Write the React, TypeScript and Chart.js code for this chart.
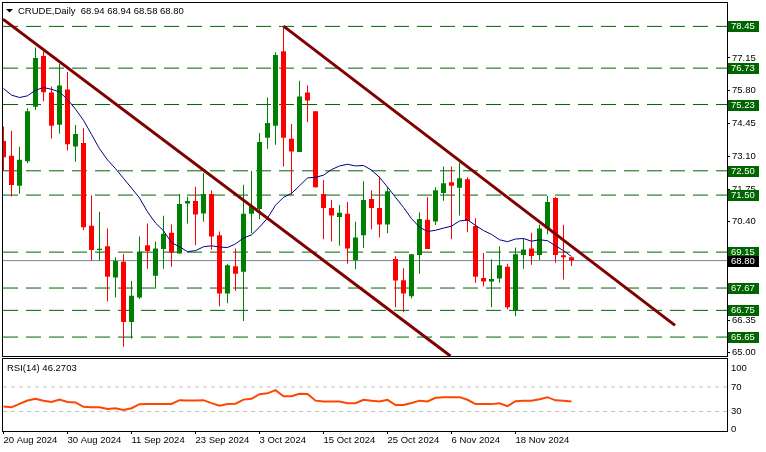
import React, { useEffect, useRef } from 'react';
import { Chart, registerables } from 'chart.js';

Chart.register(...registerables);

// ---------------- data ----------------
const dates = [
  '20 Aug 2024', '21 Aug 2024', '22 Aug 2024', '23 Aug 2024', '26 Aug 2024', '27 Aug 2024', '28 Aug 2024', '29 Aug 2024',
  '30 Aug 2024', '2 Sep 2024', '3 Sep 2024', '4 Sep 2024', '5 Sep 2024', '6 Sep 2024', '9 Sep 2024', '10 Sep 2024',
  '11 Sep 2024', '12 Sep 2024', '13 Sep 2024', '16 Sep 2024', '17 Sep 2024', '18 Sep 2024', '19 Sep 2024', '20 Sep 2024',
  '23 Sep 2024', '24 Sep 2024', '25 Sep 2024', '26 Sep 2024', '27 Sep 2024', '30 Sep 2024', '1 Oct 2024', '2 Oct 2024',
  '3 Oct 2024', '4 Oct 2024', '7 Oct 2024', '8 Oct 2024', '9 Oct 2024', '10 Oct 2024', '11 Oct 2024', '14 Oct 2024',
  '15 Oct 2024', '16 Oct 2024', '17 Oct 2024', '18 Oct 2024', '21 Oct 2024', '22 Oct 2024', '23 Oct 2024', '24 Oct 2024',
  '25 Oct 2024', '28 Oct 2024', '29 Oct 2024', '30 Oct 2024', '31 Oct 2024', '1 Nov 2024', '4 Nov 2024', '5 Nov 2024',
  '6 Nov 2024', '7 Nov 2024', '8 Nov 2024', '11 Nov 2024', '12 Nov 2024', '13 Nov 2024', '14 Nov 2024', '15 Nov 2024',
  '18 Nov 2024', '19 Nov 2024', '20 Nov 2024', '21 Nov 2024', '22 Nov 2024', '25 Nov 2024', '26 Nov 2024', '27 Nov 2024',
];

const opens = [
  73.73, 73.12, 71.88, 72.89, 75.14, 77.23, 75.73, 74.40, 75.85, 73.50,
  73.65, 70.24, 69.24, 69.39, 68.10, 68.75, 66.27, 67.28, 69.43, 68.18,
  69.28, 69.95, 69.09, 71.15, 71.26, 70.74, 71.54, 69.85, 67.45, 68.57,
  68.34, 70.73, 70.93, 73.86, 74.36, 77.43, 73.82, 73.27, 75.73, 74.95,
  71.54, 70.97, 70.60, 70.73, 68.82, 69.85, 71.34, 70.97, 70.29, 68.87,
  67.99, 67.33, 69.03, 70.48, 70.41, 71.59, 72.03, 71.80, 72.15, 70.23,
  68.08, 67.94, 68.06, 68.55, 66.72, 69.03, 69.30, 69.03, 70.12, 71.38,
  69.02, 68.94,
];

const highs = [
  74.33, 74.15, 73.49, 75.08, 77.58, 77.45, 75.97, 76.91, 76.57, 74.39,
  74.25, 71.49, 70.81, 70.12, 68.94, 69.07, 67.96, 69.79, 70.33, 69.59,
  70.65, 70.29, 71.54, 71.43, 71.84, 72.41, 71.70, 70.00, 68.67, 69.30,
  71.93, 72.49, 74.06, 75.52, 77.38, 78.46, 74.43, 76.21, 76.01, 74.95,
  72.12, 71.30, 71.09, 71.21, 70.40, 72.07, 71.70, 72.27, 71.82, 68.98,
  68.49, 69.07, 70.78, 71.42, 71.82, 72.68, 72.68, 72.84, 72.23, 70.55,
  69.11, 68.86, 69.39, 68.67, 69.34, 69.70, 69.95, 70.28, 71.46, 71.42,
  70.28, 68.94,
];

const lows = [
  72.50, 71.44, 71.55, 72.81, 75.01, 75.37, 73.83, 74.03, 73.34, 72.87,
  70.06, 68.78, 68.78, 67.12, 67.28, 65.25, 65.59, 67.22, 68.46, 67.69,
  68.46, 68.55, 69.09, 70.33, 69.43, 70.40, 69.25, 66.92, 67.04, 67.56,
  66.31, 69.93, 70.50, 73.41, 73.57, 72.68, 71.51, 73.27, 74.51, 71.80,
  69.68, 69.59, 69.41, 68.67, 68.44, 69.32, 70.08, 69.75, 69.93, 66.88,
  66.67, 67.24, 68.26, 69.28, 70.27, 71.27, 69.68, 70.66, 69.97, 67.89,
  67.73, 66.88, 67.89, 66.80, 66.51, 68.46, 68.63, 68.83, 69.89, 68.71,
  68.02, 68.58,
];

const closes = [
  73.06, 71.92, 72.96, 74.95, 77.15, 75.74, 74.36, 76.01, 73.59, 74.02,
  70.17, 69.24, 69.29, 68.14, 68.78, 66.27, 67.35, 69.18, 69.20, 69.30,
  69.91, 69.13, 71.13, 71.26, 70.70, 71.54, 69.79, 67.45, 68.61, 68.26,
  70.73, 71.04, 73.69, 74.47, 77.27, 73.86, 73.30, 75.56, 75.40, 71.82,
  70.97, 70.66, 70.77, 69.30, 69.75, 71.30, 70.97, 70.29, 71.66, 67.98,
  67.45, 69.06, 70.51, 69.28, 71.70, 71.99, 71.88, 72.19, 70.43, 68.14,
  67.94, 68.04, 68.61, 66.88, 69.06, 69.26, 68.99, 70.12, 71.21, 69.03,
  68.94, 68.80,
];

const maValues = [
  75.89, 75.62, 75.52, 75.59, 75.82, 75.93, 75.86, 75.75, 75.44, 75.04,
  74.58, 74.00, 73.41, 72.95, 72.59, 72.19, 71.79, 71.38, 70.81, 70.35,
  70.03, 69.54, 69.37, 69.17, 69.21, 69.37, 69.41, 69.36, 69.34, 69.49,
  69.73, 69.86, 70.18, 70.55, 71.08, 71.41, 71.57, 71.88, 72.21, 72.23,
  72.32, 72.55, 72.70, 72.77, 72.70, 72.72, 72.53, 72.23, 71.83, 71.41,
  70.99, 70.53, 70.18, 70.00, 70.05, 70.14, 70.22, 70.43, 70.48, 70.25,
  70.04, 69.88, 69.66, 69.58, 69.69, 69.71, 69.60, 69.66, 69.62, 69.41,
  69.21, 68.97,
];

const rsiValues = [
  38.0, 36.6, 42.2, 47.9, 50.7, 47.4, 45.5, 49.3, 45.5, 44.6,
  37.5, 36.6, 36.8, 33.8, 35.2, 32.4, 35.2, 41.8, 42.2, 42.2,
  42.2, 42.2, 48.4, 47.9, 47.9, 48.4, 43.6, 39.4, 42.2, 42.7,
  49.3, 50.7, 58.2, 59.6, 64.8, 54.9, 54.9, 58.8, 58.6, 47.6,
  46.2, 46.2, 46.2, 43.3, 43.3, 49.0, 47.6, 46.2, 49.0, 40.5,
  40.5, 43.8, 47.6, 46.2, 52.4, 53.3, 53.3, 53.3, 49.0, 41.9,
  41.9, 41.9, 43.3, 38.6, 46.7, 47.6, 47.6, 50.0, 53.3, 48.1,
  47.6, 46.27,
];

const priceTicks = [65.0, 66.35, 67.7, 69.05, 70.4, 71.75, 73.1, 74.45, 75.8, 77.15, 78.5];
const rsiTicks = [0, 30, 70, 100];
const rsiLevels = [70, 30];
const dateTickIdx = [0, 8, 16, 24, 32, 40, 48, 56, 64];
const levels = [78.45, 76.73, 75.23, 72.5, 71.5, 69.15, 67.67, 66.75, 65.65];
const lastPrice = 68.8;
const trendUpperPts = [
  { x: 35, y: 78.46 },
  { x: 83.94, y: 66.13 },
];
const trendLowerPts = [
  { x: -0.0625, y: 78.75 },
  { x: 55.87, y: 64.87 },
];
const titleText = 'CRUDE,Daily  68.94 68.94 68.58 68.80';
const rsiTitle = 'RSI(14) 46.2703';

// ---------------- layout constants ----------------
const X_MIN = -0.0625;
const X_MAX = 90.4375;
const PRICE_MIN = 64.87;
const PRICE_MAX = 79.22;
const RSI_MIN = -2.2;
const RSI_MAX = 103.3;
const FAMILY = 'Liberation Sans';
const FS = 9.5;
const LEVEL_GREEN = '#006400';

export default function App() {
  const mainRef = useRef<HTMLCanvasElement | null>(null);
  const rsiRef = useRef<HTMLCanvasElement | null>(null);

  useEffect(() => {
    Chart.defaults.font.family = FAMILY;
    const idx = opens.map((_, i) => i);
    const colors = idx.map((i) => (closes[i] >= opens[i] ? '#008000' : '#ff0000'));

    const hLine = (v: number, color: string, dash: number[] | undefined, order: number) => ({
      type: 'line' as const,
      data: [
        { x: X_MIN, y: v },
        { x: X_MAX, y: v },
      ],
      borderColor: color,
      borderWidth: 1,
      borderDash: dash || [],
      pointRadius: 0,
      order,
    });

    const mainPlugin = {
      id: 'mainDeco',
      afterDraw(chart: any) {
        const ctx = chart.ctx;
        const y = chart.scales.y;
        ctx.save();
        ctx.strokeStyle = '#000';
        ctx.lineWidth = 1;
        ctx.strokeRect(2.5, 2.5, 725, 354);
        ctx.font = `${FS}px "${FAMILY}"`;
        ctx.textBaseline = 'middle';
        ctx.textAlign = 'left';
        const box = (v: number, bg: string) => {
          const py = Math.round(y.getPixelForValue(v));
          ctx.fillStyle = bg;
          ctx.fillRect(728, py - 5, 31, 11);
          ctx.fillStyle = '#ffffff';
          ctx.fillText(v.toFixed(2), 731, py + 0.5);
        };
        levels.forEach((l) => box(l, LEVEL_GREEN));
        box(lastPrice, '#000000');
        ctx.fillStyle = '#000';
        ctx.beginPath();
        ctx.moveTo(6, 9);
        ctx.lineTo(13, 9);
        ctx.lineTo(9.5, 12.5);
        ctx.closePath();
        ctx.fill();
        ctx.fillText(titleText, 18, 11);
        ctx.restore();
      },
    };

    const main = new Chart(mainRef.current as HTMLCanvasElement, {
      type: 'bar',
      data: {
        datasets: [
          {
            type: 'bar',
            label: 'wick',
            data: idx.map((i) => ({ x: i, y: [lows[i], highs[i]] })) as any,
            backgroundColor: colors,
            borderWidth: 0,
            barThickness: 1,
            grouped: false,
            inflateAmount: 0,
            order: 5,
          } as any,
          {
            type: 'bar',
            label: 'body',
            data: idx.map((i) => ({ x: i, y: [opens[i], closes[i]] })) as any,
            backgroundColor: colors,
            borderWidth: 0,
            barThickness: 5,
            minBarLength: 1,
            grouped: false,
            inflateAmount: 0,
            order: 4,
          } as any,
          {
            type: 'line',
            label: 'MA14',
            data: idx.map((i) => ({ x: i, y: maValues[i] })),
            borderColor: '#000080',
            borderWidth: 1,
            pointRadius: 0,
            tension: 0,
            order: 3,
          } as any,
          ...levels.map((l) => hLine(l, LEVEL_GREEN, [15, 8], 7) as any),
          hLine(lastPrice, '#778899', undefined, 6) as any,
          {
            type: 'line',
            label: 'trendUpper',
            data: trendUpperPts,
            borderColor: '#800000',
            borderWidth: 3,
            pointRadius: 0,
            order: 1,
          } as any,
          {
            type: 'line',
            label: 'trendLower',
            data: trendLowerPts,
            borderColor: '#800000',
            borderWidth: 3,
            pointRadius: 0,
            order: 1,
          } as any,
        ],
      },
      options: {
        responsive: false,
        animation: false,
        devicePixelRatio: 1,
        events: [],
        layout: { padding: { top: 3, left: 3, right: 0, bottom: 96 }, autoPadding: false } as any,
        plugins: { legend: { display: false }, tooltip: { enabled: false }, title: { display: false } },
        scales: {
          x: {
            type: 'linear',
            min: X_MIN,
            max: X_MAX,
            display: false,
            offset: false,
            grid: { offset: false },
          } as any,
          y: {
            type: 'linear',
            position: 'right',
            min: PRICE_MIN,
            max: PRICE_MAX,
            afterBuildTicks: (s: any) => {
              s.ticks = priceTicks.map((v) => ({ value: v }));
            },
            afterFit: (s: any) => {
              s.width = 39;
            },
            ticks: {
              callback: (v: any) => Number(v).toFixed(2),
              font: { family: FAMILY, size: FS },
              color: '#000',
              padding: 2,
              autoSkip: false,
            },
            grid: { drawOnChartArea: false, drawTicks: true, tickLength: 3, color: '#000' },
            border: { display: false },
          } as any,
        },
      },
      plugins: [mainPlugin],
    });

    const rsiPlugin = {
      id: 'rsiDeco',
      afterDraw(chart: any) {
        const ctx = chart.ctx;
        ctx.save();
        ctx.strokeStyle = '#000';
        ctx.lineWidth = 1;
        ctx.strokeRect(2.5, 1.5, 725, 73);
        ctx.font = `${FS}px "${FAMILY}"`;
        ctx.fillStyle = '#000';
        ctx.textBaseline = 'middle';
        ctx.textAlign = 'left';
        ctx.fillText(rsiTitle, 7, 11);
        ctx.restore();
      },
    };

    const rsi = new Chart(rsiRef.current as HTMLCanvasElement, {
      type: 'line',
      data: {
        datasets: [
          {
            label: 'RSI',
            data: idx.map((i) => ({ x: i, y: rsiValues[i] })),
            borderColor: '#ff4500',
            borderWidth: 2,
            pointRadius: 0,
            tension: 0,
            order: 1,
          } as any,
          ...rsiLevels.map((l) => hLine(l, '#c0c0c0', [4, 4], 2) as any),
        ],
      },
      options: {
        responsive: false,
        animation: false,
        devicePixelRatio: 1,
        events: [],
        layout: { padding: { top: 2, left: 3, right: 0, bottom: 0 }, autoPadding: false } as any,
        plugins: { legend: { display: false }, tooltip: { enabled: false } },
        scales: {
          x: {
            type: 'linear',
            position: 'bottom',
            min: X_MIN,
            max: X_MAX,
            offset: false,
            afterBuildTicks: (s: any) => {
              s.ticks = dateTickIdx.map((v) => ({ value: v }));
            },
            afterFit: (s: any) => {
              s.height = 21;
            },
            ticks: {
              callback: (v: any) => dates[Number(v)],
              align: 'start',
              maxRotation: 0,
              minRotation: 0,
              autoSkip: false,
              padding: 1,
              font: { family: FAMILY, size: FS },
              color: '#000',
            },
            grid: { drawOnChartArea: false, drawTicks: true, tickLength: 3, color: '#000' },
            border: { display: false },
          } as any,
          y: {
            type: 'linear',
            position: 'right',
            min: RSI_MIN,
            max: RSI_MAX,
            afterBuildTicks: (s: any) => {
              s.ticks = rsiTicks.map((v) => ({ value: v }));
            },
            afterFit: (s: any) => {
              s.width = 39;
            },
            ticks: {
              callback: (v: any) => String(v),
              font: { family: FAMILY, size: FS },
              color: '#000',
              padding: 4,
              autoSkip: false,
            },
            grid: { drawOnChartArea: false, drawTicks: false },
            border: { display: false },
          } as any,
        },
      },
      plugins: [rsiPlugin],
    });

    return () => {
      main.destroy();
      rsi.destroy();
    };
  }, []);

  return (
    <div style={{ position: 'fixed', left: 0, top: 0, width: 766, height: 452, background: '#ffffff', overflow: 'hidden' }}>
      <canvas
        ref={mainRef}
        width={766}
        height={452}
        style={{ position: 'absolute', left: 0, top: 0, width: 766, height: 452 }}
      />
      <canvas
        ref={rsiRef}
        width={766}
        height={95}
        style={{ position: 'absolute', left: 0, top: 357, width: 766, height: 95 }}
      />
    </div>
  );
}
